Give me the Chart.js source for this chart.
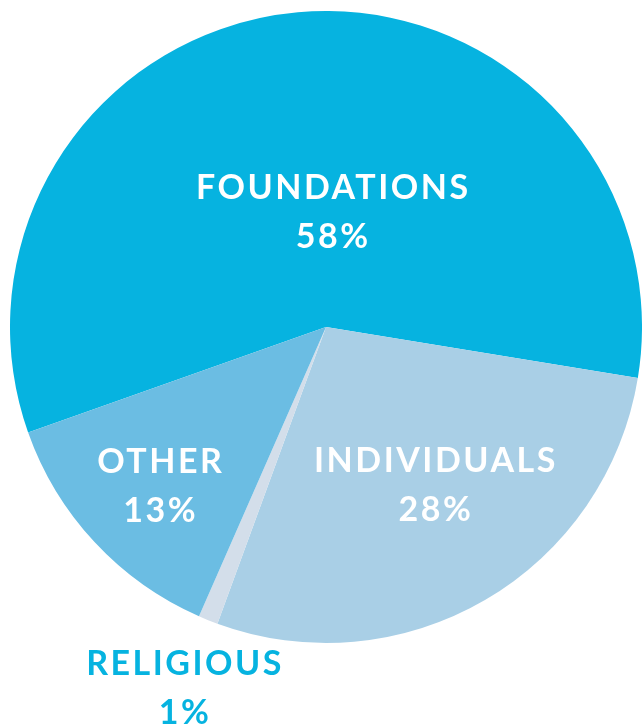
<!DOCTYPE html>
<html>
<head>
<meta charset="utf-8">
<script src="https://cdn.jsdelivr.net/npm/chart.js@4/dist/chart.umd.min.js"></script>
<style>
  html, body { margin: 0; padding: 0; background: #fff; overflow: hidden; }
  #wrap { width: 642px; height: 728px; }
</style>
</head>
<body>
<div id="wrap"><canvas id="chart1"></canvas></div>
<script>
// data
const categories = ['FOUNDATIONS', 'INDIVIDUALS', 'RELIGIOUS', 'OTHER'];
const shares = [58, 28, 1, 13];
const sliceColors = ['#06b3e0', '#a9cfe6', '#d3deea', '#6bbde3'];
// label placement, as offsets from the pie centre in units of radius
const labelOffsets = [[0.019, -0.363], [0.344, 0.503], [-0.45, 1.144], [-0.527, 0.506]];
const labelColors = ['#ffffff', '#ffffff', '#06b3e0', '#ffffff'];

const sliceLabels = {
    id: 'sliceLabels',
    afterDatasetsDraw(chart) {
        const ctx = chart.ctx;
        const arcs = chart.getDatasetMeta(0).data;
        ctx.save();
        ctx.font = 'bold 34px Lato, "Open Sans", sans-serif';
        ctx.letterSpacing = '2.5px';
        ctx.textAlign = 'center';
        ctx.textBaseline = 'middle';
        arcs.forEach(function(arc, i) {
            const r = arc.outerRadius;
            const x = arc.x + labelOffsets[i][0] * r + 1.25;
            const y = arc.y + labelOffsets[i][1] * r;
            ctx.fillStyle = labelColors[i];
            ctx.fillText(categories[i], x, y - 24.5);
            ctx.fillText(shares[i] + '%', x, y + 24.5);
        });
        ctx.restore();
    }
};

document.addEventListener("DOMContentLoaded", function() {
    const ctx1 = document.getElementById('chart1').getContext('2d');
    new Chart(ctx1, {
        type: 'pie',
        data: {
            labels: categories,
            datasets: [{
                data: shares,
                backgroundColor: sliceColors,
                borderWidth: 0
            }]
        },
        options: {
            responsive: true,
            maintainAspectRatio: false,
            animation: false,
            rotation: -109.5,
            layout: { padding: { top: 10, left: 10, right: 0, bottom: 84 } },
            plugins: {
                legend: { display: false },
                tooltip: { enabled: false }
            }
        },
        plugins: [sliceLabels]
    });
});
</script>
</body>
</html>
